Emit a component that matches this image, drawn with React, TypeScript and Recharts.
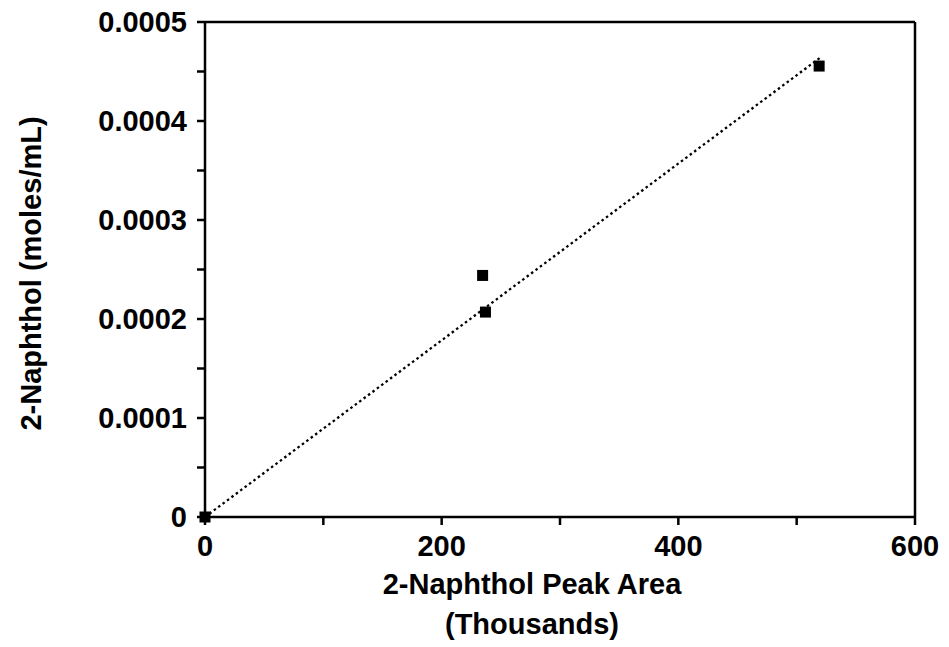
import { ComposedChart, Scatter, XAxis, YAxis, ReferenceLine } from 'recharts';

const peakArea = [0, 234.6, 237, 519];
const concentration = [0, 0.000244, 0.000207, 0.0004555];
const fitX = [0, 521];
const fitY = [0, 0.000465];
const xTicks = [0, 100, 200, 300, 400, 500, 600];
const yTicks = [0, 0.00005, 0.0001, 0.00015, 0.0002, 0.00025, 0.0003, 0.00035, 0.0004, 0.00045, 0.0005];

const points = peakArea.map((x, i) => ({ x, y: concentration[i] }));
const fit = fitX.map((x, i) => ({ x, y: fitY[i] }));

const font = '"Liberation Sans", Arial, sans-serif';

const Square = (props: any) => {
  const { cx, cy } = props;
  if (cx == null || cy == null) return null;
  return <rect x={cx - 5.5} y={cy - 5.5} width={11} height={11} fill="#000" />;
};

const NoDot = () => null;

// two-line x title, sits a bit left of the plot centre like the original
const XTitle = (props: any) => {
  const { viewBox } = props;
  const cx = viewBox.x + viewBox.width / 2 - 28;
  const top = viewBox.y;
  return (
    <g fontFamily={font} fontWeight="bold" fontSize={29} fill="#000" textAnchor="middle">
      <text x={cx} y={top + 77}>2-Naphthol Peak Area</text>
      <text x={cx} y={top + 117}>(Thousands)</text>
    </g>
  );
};

const YTitle = (props: any) => {
  const { viewBox } = props;
  const cy = viewBox.y + viewBox.height / 2 + 4;
  const x = viewBox.x + 41;
  return (
    <text
      x={x}
      y={cy}
      transform={`rotate(-90 ${x} ${cy})`}
      fontFamily={font}
      fontWeight="bold"
      fontSize={29}
      fill="#000"
      textAnchor="middle"
    >
      2-Naphthol (moles/mL)
    </text>
  );
};

const fmtY = (v: number) => {
  const n = Math.round(v * 100000);
  if (n % 2 === 1) return '';
  return n === 0 ? '0' : v.toFixed(4);
};
const fmtX = (v: number) => (v % 200 === 0 ? String(v) : '');

export default function App() {
  const tickStyle = { fill: '#000', fontSize: 29, fontFamily: font, fontWeight: 'bold' as const };
  return (
    <div style={{ position: 'absolute', left: 0, top: 0, background: '#fff' }}>
      <ComposedChart width={949} height={647} margin={{ top: 22, right: 34, bottom: 0, left: 0 }}>
        <XAxis
          type="number"
          dataKey="x"
          domain={[0, 600]}
          ticks={xTicks}
          tickFormatter={fmtX}
          interval={0}
          height={130}
          tickSize={8}
          tickMargin={10}
          stroke="#000"
          strokeWidth={2.5}
          tick={tickStyle}
          label={<XTitle />}
        />
        <YAxis
          type="number"
          dataKey="y"
          domain={[0, 0.0005]}
          ticks={yTicks}
          tickFormatter={fmtY}
          interval={0}
          width={205}
          tickSize={8}
          tickMargin={10}
          stroke="#000"
          strokeWidth={2.5}
          tick={tickStyle}
          label={<YTitle />}
        />
        <ReferenceLine y={0.0005} stroke="#000" strokeWidth={2.5} />
        <ReferenceLine x={600} stroke="#000" strokeWidth={2.5} />
        <Scatter
          data={fit}
          line={{ stroke: '#000', strokeWidth: 2.3, strokeDasharray: '2.5 3' }}
          lineType="joint"
          shape={<NoDot />}
          isAnimationActive={false}
        />
        <Scatter data={points} shape={<Square />} isAnimationActive={false} />
      </ComposedChart>
    </div>
  );
}
